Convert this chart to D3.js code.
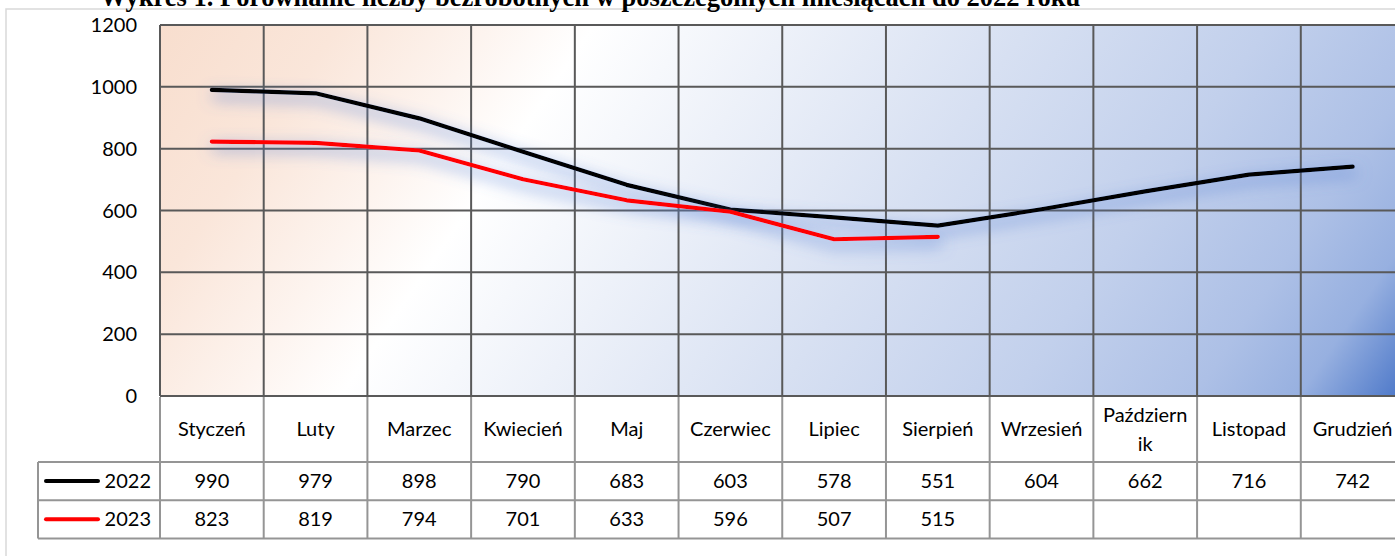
<!DOCTYPE html>
<html>
<head>
<meta charset="utf-8">
<script src="https://cdn.jsdelivr.net/npm/d3@7"></script>
<style>
  html, body { margin: 0; padding: 0; background: #ffffff; overflow: hidden; }
  svg { display: block; }
</style>
</head>
<body>
<svg id="chart" width="1395" height="556"></svg>
<script>
// ---- data ----
const titleText = "Wykres 1. Porównanie liczby bezrobotnych w poszczególnych miesiącach do 2022 roku";
const categories = ["Styczeń", "Luty", "Marzec", "Kwiecień", "Maj", "Czerwiec", "Lipiec", "Sierpień", "Wrzesień", "Październik", "Listopad", "Grudzień"];
const categoryLabels = [["Styczeń"], ["Luty"], ["Marzec"], ["Kwiecień"], ["Maj"], ["Czerwiec"], ["Lipiec"], ["Sierpień"], ["Wrzesień"], ["Październ", "ik"], ["Listopad"], ["Grudzień"]];
const seriesNames = ["2022", "2023"];
const values2022 = [990, 979, 898, 790, 683, 603, 578, 551, 604, 662, 716, 742];
const values2023 = [823, 819, 794, 701, 633, 596, 507, 515, null, null, null, null];
const seriesColors = ["#000000", "#ff0000"];
const yTicks = [0, 200, 400, 600, 800, 1000, 1200];

// ---- layout ----
const svg = d3.select("#chart");
const plotLeft = 160, plotRight = 1404.5, plotTop = 25, plotBottom = 396;
const headerBottom = 462, rowH = 38.2, legendLeft = 38;
const font = "Lato, 'Noto Sans', sans-serif";

const x = d3.scaleBand().domain(categories).range([plotLeft, plotRight]).padding(0);
const y = d3.scaleLinear().domain([0, 1200]).range([plotBottom, plotTop]);

const defs = svg.append("defs");
const grad = defs.append("linearGradient")
  .attr("id", "bg").attr("gradientUnits", "userSpaceOnUse")
  .attr("x1", 160).attr("y1", 25).attr("x2", 1180).attr("y2", 723);
[
  [0.00, "#f8dece"], [0.12, "#fae6da"], [0.22, "#fdf4ef"], [0.29, "#ffffff"],
  [0.42, "#edf1f9"], [0.58, "#d7e0f2"], [0.74, "#c2d0ec"], [0.86, "#adc0e6"],
  [0.93, "#97b0e0"], [1.00, "#4a76c8"]
].forEach(([o, c]) => grad.append("stop").attr("offset", o).attr("stop-color", c));

const sh = defs.append("filter").attr("id", "shadow")
  .attr("x", "-10%").attr("y", "-80%").attr("width", "120%").attr("height", "260%");
sh.append("feGaussianBlur").attr("in", "SourceAlpha").attr("stdDeviation", 8).attr("result", "b");
sh.append("feOffset").attr("in", "b").attr("dx", 2).attr("dy", 6).attr("result", "o");
sh.append("feFlood").attr("flood-color", "#5a82d4").attr("flood-opacity", 1).attr("result", "f");
sh.append("feComposite").attr("in", "f").attr("in2", "o").attr("operator", "in").attr("result", "s");
const m = sh.append("feMerge");
m.append("feMergeNode").attr("in", "s");
m.append("feMergeNode").attr("in", "SourceGraphic");

// chart frame
svg.append("rect").attr("x", 6).attr("y", 9).attr("width", 1500).attr("height", 600)
  .attr("fill", "#ffffff").attr("stroke", "#d9d9d9").attr("stroke-width", 1.5);

// title
svg.append("text").attr("x", 100).attr("y", 5.5)
  .attr("font-family", "'Liberation Serif', 'Times New Roman', serif")
  .attr("font-weight", "bold").attr("font-size", 26.5).attr("fill", "#000")
  .text(titleText);

// plot background
svg.append("rect").attr("x", plotLeft).attr("y", plotTop)
  .attr("width", plotRight - plotLeft).attr("height", plotBottom - plotTop)
  .attr("fill", "url(#bg)");

// horizontal gridlines
svg.append("g").selectAll("line").data(yTicks).join("line")
  .attr("x1", plotLeft).attr("x2", plotRight)
  .attr("y1", d => y(d)).attr("y2", d => y(d))
  .attr("stroke", "#595959").attr("stroke-width", 2);

// vertical gridlines
const bounds = categories.map(c => x(c));
svg.append("g").selectAll("line").data(bounds).join("line")
  .attr("x1", d => d).attr("x2", d => d)
  .attr("y1", plotTop).attr("y2", plotBottom)
  .attr("stroke", "#595959").attr("stroke-width", 2);

// y axis labels
svg.append("g").selectAll("text").data(yTicks).join("text")
  .attr("x", 137).attr("y", d => y(d)).attr("dy", "0.35em")
  .attr("text-anchor", "end").attr("font-family", font).attr("font-size", 20).attr("fill", "#000")
  .text(d => d);

// lines
const line = d3.line().defined(d => d.v != null)
  .x(d => x(d.c) + x.bandwidth() / 2).y(d => y(d.v));
[values2022, values2023].forEach((vals, i) => {
  const data = categories.map((c, j) => ({ c, v: vals[j] }));
  svg.append("path").datum(data)
    .attr("d", line).attr("fill", "none")
    .attr("stroke", seriesColors[i]).attr("stroke-width", 4.2)
    .attr("stroke-linejoin", "round").attr("stroke-linecap", "round")
    .attr("filter", "url(#shadow)");
});

// ---- data table ----
const tbl = svg.append("g");
const borderCol = "#959595";
const row1Top = headerBottom, row2Top = headerBottom + rowH, tableBottom = headerBottom + 2 * rowH;
// category labels
categoryLabels.forEach((lines, i) => {
  const cx = x(categories[i]) + x.bandwidth() / 2;
  const cy = (plotBottom + headerBottom) / 2;
  const t = tbl.append("text").attr("text-anchor", "middle")
    .attr("font-family", font).attr("font-size", 20).attr("fill", "#000");
  lines.forEach((ln, k) => {
    t.append("tspan").attr("x", cx)
      .attr("y", cy + (k - (lines.length - 1) / 2) * 29)
      .attr("dy", "0.35em").text(ln);
  });
});
// values
[values2022, values2023].forEach((vals, r) => {
  const cy = headerBottom + rowH * r + rowH / 2;
  tbl.append("g").selectAll("text").data(vals.map((v, j) => ({ v, c: categories[j] })).filter(d => d.v != null))
    .join("text")
    .attr("x", d => x(d.c) + x.bandwidth() / 2).attr("y", cy).attr("dy", "0.35em")
    .attr("text-anchor", "middle").attr("font-family", font).attr("font-size", 20).attr("fill", "#000")
    .text(d => d.v);
  // legend key
  tbl.append("line").attr("x1", 46).attr("x2", 98).attr("y1", cy).attr("y2", cy)
    .attr("stroke", seriesColors[r]).attr("stroke-width", 4).attr("stroke-linecap", "round");
  tbl.append("text").attr("x", 151).attr("y", cy).attr("dy", "0.35em")
    .attr("text-anchor", "end").attr("font-family", font).attr("font-size", 20).attr("fill", "#000")
    .text(seriesNames[r]);
});
// table borders
[[legendLeft, row1Top], [legendLeft, row2Top], [legendLeft, tableBottom]].forEach(([x0, yy]) => {
  tbl.append("line").attr("x1", x0).attr("x2", plotRight).attr("y1", yy).attr("y2", yy)
    .attr("stroke", borderCol).attr("stroke-width", 2);
});
tbl.append("line").attr("x1", legendLeft).attr("x2", legendLeft).attr("y1", row1Top).attr("y2", tableBottom)
  .attr("stroke", borderCol).attr("stroke-width", 2);
tbl.selectAll(".vb").data(bounds).join("line")
  .attr("x1", d => d).attr("x2", d => d).attr("y1", plotBottom + 1).attr("y2", tableBottom)
  .attr("stroke", borderCol).attr("stroke-width", 2);
</script>
</body>
</html>
